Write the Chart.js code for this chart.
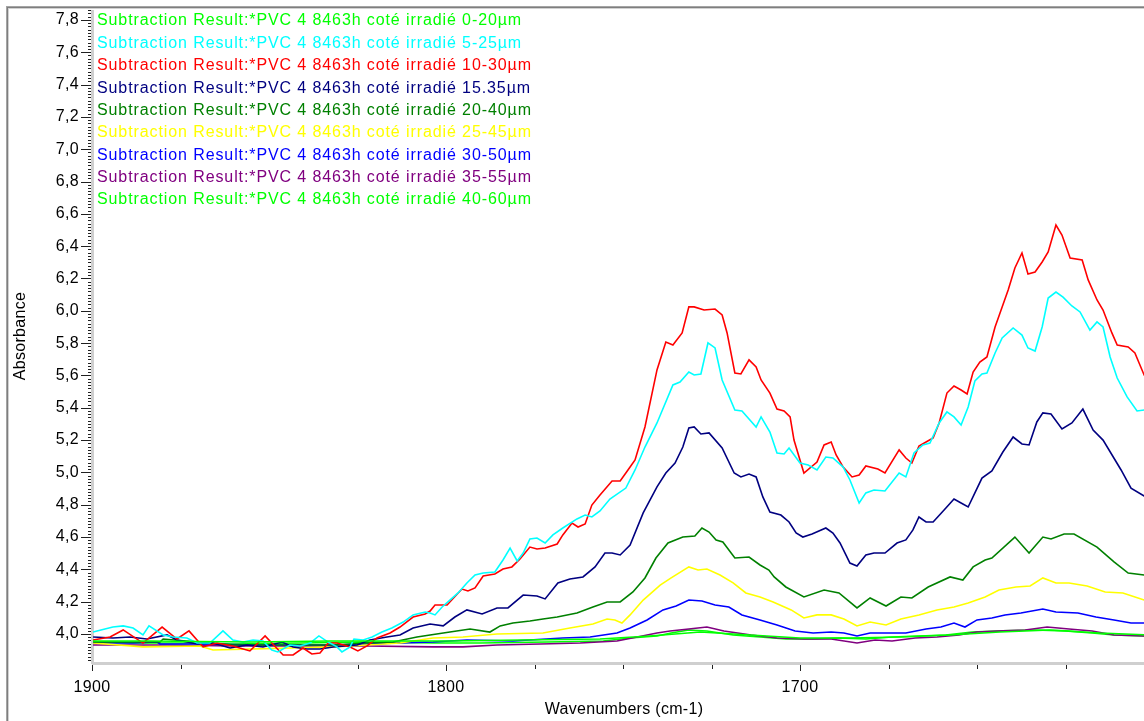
<!DOCTYPE html>
<html>
<head>
<meta charset="utf-8">
<script src="https://cdn.jsdelivr.net/npm/chart.js@4.4.1/dist/chart.umd.min.js"></script>
<style>
  html, body { margin: 0; padding: 0; background: #ffffff; overflow: hidden; }
  #wrap { position: relative; width: 1156px; height: 721px; }
</style>
</head>
<body>
<div id="wrap"><canvas id="spectra" width="1156" height="721"></canvas></div>
<script>
// Subtraction spectra, PVC 4 after 8463 h, irradiated side, by depth slice
const seriesLabels = [
  'Subtraction Result:*PVC 4 8463h coté irradié 0-20µm',
  'Subtraction Result:*PVC 4 8463h coté irradié 5-25µm',
  'Subtraction Result:*PVC 4 8463h coté irradié 10-30µm',
  'Subtraction Result:*PVC 4 8463h coté irradié 15.35µm',
  'Subtraction Result:*PVC 4 8463h coté irradié 20-40µm',
  'Subtraction Result:*PVC 4 8463h coté irradié 25-45µm',
  'Subtraction Result:*PVC 4 8463h coté irradié 30-50µm',
  'Subtraction Result:*PVC 4 8463h coté irradié 35-55µm',
  'Subtraction Result:*PVC 4 8463h coté irradié 40-60µm'
];
const seriesColors = ['#00FF00', '#00FFFF', '#FF0000', '#000080', '#008000', '#FFFF00', '#0000FF', '#800080', '#00FF00'];

// wavenumbers (cm-1) and absorbance for each slice
const wn0_20 = [1899.7,1883.6,1855.4,1832.8,1813.0,1798.9,1779.1,1756.5,1742.4,1728.2,1714.1,1700.0,1685.9,1671.8,1657.6,1643.5,1629.4,1615.3,1601.1];
const abs0_20 = [3.957,3.957,3.950,3.957,3.957,3.957,3.963,3.969,3.988,4.012,3.994,3.975,3.975,3.981,3.994,4.012,4.025,4.006,3.994];

const wn5_25 = [1899.7,1894.1,1891.2,1888.4,1885.6,1883.9,1879.9,1877.1,1873.2,1870.3,
  1866.7,1863.0,1860.2,1857.3,1854.5,1851.7,1849.2,1847.5,1844.1,1841.2,
  1838.4,1835.9,1833.3,1830.8,1829.4,1827.1,1826.0,1823.4,1820.9,1818.1,
  1815.3,1812.1,1809.3,1805.9,1804.5,1803.1,1801.1,1798.9,1796.6,1794.1,
  1791.8,1789.5,1786.2,1783.9,1781.9,1779.9,1778.2,1776.3,1774.3,1772.0,
  1769.8,1767.0,1763.0,1760.7,1758.8,1756.5,1753.7,1749.2,1746.6,1743.8,
  1740.4,1735.9,1733.9,1731.4,1729.9,1728.0,1726.0,1724.0,1722.0,1718.4,
  1716.4,1712.4,1711.0,1708.5,1706.5,1704.5,1703.1,1700.0,1697.7,1695.2,
  1692.7,1690.7,1687.8,1685.9,1683.3,1681.4,1679.1,1676.0,1672.0,1670.1,
  1667.8,1665.3,1663.3,1660.7,1658.5,1656.5,1654.5,1652.5,1650.6,1648.6,
  1647.2,1644.9,1642.9,1639.8,1637.3,1635.6,1633.6,1631.6,1629.9,1627.7,
  1625.7,1623.2,1620.9,1618.1,1616.1,1614.4,1612.4,1610.4,1607.6,1604.8,
  1602.8,1601.1];
const abs5_25 = [4.012,4.043,4.050,4.037,3.994,4.050,3.994,3.981,3.975,3.944,
  3.944,4.019,3.963,3.950,3.963,3.957,3.901,3.889,3.932,3.926,
  3.944,3.988,3.950,3.920,3.889,3.920,3.969,3.963,3.981,4.012,
  4.037,4.074,4.118,4.136,4.130,4.118,4.167,4.210,4.254,4.316,
  4.365,4.377,4.384,4.458,4.532,4.452,4.501,4.588,4.594,4.563,
  4.613,4.656,4.712,4.736,4.724,4.761,4.835,4.903,5.015,5.157,
  5.306,5.541,5.559,5.621,5.603,5.609,5.801,5.770,5.572,5.386,
  5.380,5.281,5.343,5.250,5.120,5.114,5.151,5.058,5.046,5.015,
  5.095,5.089,5.033,4.953,4.811,4.873,4.891,4.885,4.996,4.972,
  5.120,5.170,5.182,5.306,5.374,5.343,5.293,5.405,5.566,5.609,
  5.615,5.739,5.832,5.894,5.850,5.770,5.751,5.900,6.079,6.116,
  6.085,6.030,5.993,5.881,5.931,5.900,5.714,5.584,5.467,5.380,
  5.386,5.386];

const wn10_30 = [1899.7,1894.9,1891.2,1885.6,1880.2,1876.0,1872.6,1868.6,1864.7,1860.2,
  1855.4,1851.1,1846.0,1843.2,1840.4,1837.9,1835.6,1833.3,1830.8,1827.1,
  1824.9,1822.3,1819.5,1815.8,1813.0,1809.3,1805.9,1804.5,1803.1,1799.7,
  1795.5,1793.8,1791.8,1789.5,1786.2,1783.9,1781.4,1779.1,1776.3,1774.3,
  1772.0,1768.6,1767.0,1764.4,1762.7,1760.7,1758.8,1756.5,1753.1,1750.8,
  1748.6,1746.6,1743.8,1740.4,1737.9,1735.9,1733.3,1731.4,1729.9,1727.1,
  1724.0,1722.0,1720.6,1718.4,1716.7,1714.4,1712.4,1711.0,1708.5,1706.5,
  1704.5,1702.8,1701.7,1698.9,1695.2,1693.2,1691.2,1689.8,1687.8,1685.3,
  1683.3,1681.4,1678.0,1676.0,1672.0,1670.1,1668.4,1666.4,1664.4,1662.4,
  1660.7,1658.5,1656.5,1654.5,1652.8,1651.1,1649.2,1647.2,1644.9,1642.7,
  1641.2,1639.3,1637.3,1635.6,1633.6,1631.6,1629.9,1627.7,1626.0,1623.7,
  1620.3,1618.6,1616.1,1614.4,1611.9,1610.4,1607.3,1605.4,1602.8,1601.1];
const abs10_30 = [3.963,3.981,4.025,3.944,4.043,3.969,4.019,3.920,3.944,3.926,
  3.895,3.988,3.870,3.870,3.913,3.876,3.882,3.944,3.944,3.920,
  3.895,3.926,3.975,4.006,4.043,4.105,4.124,4.142,4.179,4.179,
  4.278,4.266,4.285,4.359,4.371,4.402,4.415,4.464,4.538,4.526,
  4.532,4.557,4.613,4.687,4.662,4.681,4.798,4.860,4.947,4.947,
  5.015,5.077,5.281,5.634,5.807,5.788,5.863,6.024,6.024,6.005,
  6.011,5.974,5.863,5.615,5.609,5.696,5.652,5.572,5.491,5.392,
  5.380,5.343,5.200,4.996,5.064,5.170,5.188,5.108,5.033,4.972,
  4.984,5.040,5.021,4.996,5.139,5.089,5.058,5.163,5.188,5.213,
  5.306,5.491,5.535,5.510,5.485,5.621,5.683,5.714,5.900,6.036,
  6.129,6.265,6.358,6.228,6.240,6.302,6.364,6.531,6.469,6.327,
  6.314,6.191,6.067,6.005,5.863,5.788,5.776,5.739,5.603,5.541];

const wn15_35 = [1899.7,1894.1,1889.3,1884.5,1878.8,1876.0,1870.3,1865.8,1861.0,1856.2,
  1851.7,1846.3,1843.2,1839.3,1835.6,1831.9,1825.1,1821.5,1816.7,1813.0,
  1809.3,1804.5,1800.8,1797.5,1794.1,1789.8,1785.6,1782.5,1778.2,1774.3,
  1772.0,1768.4,1765.0,1761.3,1757.9,1755.1,1753.1,1750.8,1748.0,1744.3,
  1740.4,1737.9,1735.3,1733.1,1731.4,1729.9,1728.0,1725.7,1722.0,1718.6,
  1716.7,1714.4,1712.4,1710.5,1708.5,1705.4,1703.1,1701.1,1699.2,1696.6,
  1692.7,1690.7,1688.7,1685.9,1683.9,1681.4,1679.1,1676.0,1672.6,1670.1,
  1668.1,1666.4,1664.4,1662.4,1659.3,1656.5,1654.5,1652.5,1650.6,1648.6,
  1645.8,1642.7,1639.8,1637.3,1635.3,1633.1,1631.4,1629.1,1626.0,1623.2,
  1620.1,1617.2,1614.4,1609.3,1606.5,1602.8,1601.1];
const abs15_35 = [3.981,3.975,3.981,3.969,3.994,3.963,3.938,3.944,3.913,3.932,
  3.920,3.950,3.920,3.907,3.907,3.920,3.932,3.963,3.981,3.994,
  4.037,4.062,4.050,4.105,4.149,4.124,4.161,4.161,4.241,4.235,
  4.217,4.316,4.340,4.353,4.415,4.501,4.501,4.489,4.551,4.749,
  4.910,4.996,5.058,5.157,5.275,5.281,5.238,5.244,5.151,4.996,
  4.972,4.990,4.972,4.848,4.755,4.736,4.693,4.625,4.600,4.619,
  4.656,4.625,4.563,4.439,4.421,4.489,4.501,4.501,4.563,4.582,
  4.644,4.724,4.693,4.693,4.767,4.835,4.811,4.786,4.873,4.965,
  5.009,5.126,5.219,5.176,5.170,5.312,5.368,5.361,5.269,5.306,
  5.392,5.262,5.200,5.015,4.903,4.854,4.842];

const wn20_40 = [1899.7,1880.8,1879.9,1860.2,1831.9,1822.3,1815.0,1808.2,1804.5,1798.9,
  1793.2,1787.6,1784.7,1781.1,1776.3,1772.6,1768.6,1763.0,1758.5,1754.5,
  1750.8,1747.2,1743.8,1740.7,1737.3,1733.1,1729.7,1727.7,1725.7,1723.7,
  1721.8,1718.4,1714.4,1711.3,1708.8,1707.3,1704.0,1698.9,1693.2,1689.0,
  1683.9,1680.2,1675.7,1671.5,1668.4,1663.8,1657.6,1654.0,1651.1,1647.7,
  1645.8,1639.3,1635.3,1631.4,1629.1,1625.4,1622.6,1616.1,1611.3,1607.3,
  1602.8,1601.1];
const abs20_40 = [3.950,3.950,3.969,3.932,3.932,3.944,3.950,3.981,3.994,4.012,
  4.031,4.012,4.050,4.068,4.080,4.093,4.105,4.130,4.167,4.198,
  4.198,4.260,4.347,4.470,4.563,4.600,4.606,4.656,4.631,4.582,
  4.569,4.470,4.476,4.427,4.396,4.353,4.291,4.229,4.272,4.254,
  4.161,4.223,4.173,4.229,4.223,4.291,4.353,4.334,4.415,4.458,
  4.470,4.600,4.501,4.600,4.588,4.619,4.619,4.538,4.446,4.377,
  4.365,4.359];

const wn25_45 = [1899.7,1885.6,1869.5,1865.8,1831.9,1822.3,1813.0,1803.7,1795.2,1785.6,
  1772.6,1765.0,1758.5,1754.5,1752.3,1750.3,1748.0,1744.3,1739.5,1736.4,
  1731.4,1728.8,1726.3,1722.6,1718.9,1715.3,1711.3,1707.6,1702.5,1698.9,
  1695.2,1691.2,1687.6,1683.9,1680.2,1675.7,1671.5,1666.4,1661.3,1656.5,
  1652.5,1647.7,1643.8,1639.0,1635.0,1631.4,1627.7,1624.0,1618.9,1613.8,
  1608.8,1602.8,1601.1];
const abs25_45 = [3.944,3.920,3.926,3.901,3.920,3.932,3.944,3.975,3.981,4.000,
  4.006,4.037,4.062,4.093,4.087,4.068,4.118,4.210,4.303,4.347,
  4.415,4.396,4.402,4.365,4.316,4.254,4.229,4.198,4.149,4.099,
  4.118,4.118,4.093,4.050,4.074,4.056,4.093,4.118,4.149,4.167,
  4.192,4.229,4.272,4.291,4.297,4.347,4.316,4.316,4.297,4.260,
  4.254,4.210,4.204];

const wn30_50 = [1899.7,1888.4,1881.6,1880.8,1869.5,1850.6,1831.9,1813.0,1803.7,1794.1,
  1781.1,1767.0,1759.3,1751.7,1748.0,1743.2,1738.7,1735.0,1731.4,1727.7,
  1724.0,1720.1,1716.4,1711.3,1706.5,1701.4,1696.3,1691.2,1687.6,1683.9,
  1680.2,1675.1,1670.1,1664.4,1660.2,1656.5,1653.4,1650.0,1645.8,1642.1,
  1637.6,1631.4,1627.7,1621.5,1616.4,1611.3,1606.5,1602.8,1601.1];
const abs30_50 = [3.944,3.944,3.950,3.938,3.938,3.932,3.932,3.944,3.950,3.963,
  3.957,3.975,3.981,4.006,4.037,4.087,4.149,4.173,4.210,4.204,
  4.179,4.167,4.118,4.087,4.056,4.019,4.006,4.012,4.006,3.988,
  4.006,4.006,4.006,4.031,4.043,4.068,4.043,4.087,4.099,4.118,
  4.130,4.155,4.136,4.130,4.105,4.087,4.068,4.068,4.062];

const wn35_55 = [1899.7,1878.8,1860.2,1841.2,1822.3,1803.7,1795.2,1785.6,1773.4,1762.1,
  1751.7,1746.0,1740.4,1736.7,1731.4,1726.3,1721.5,1713.8,1706.5,1698.9,
  1691.2,1683.9,1678.8,1674.0,1667.5,1661.3,1655.1,1650.0,1642.7,1636.4,
  1630.2,1624.0,1617.5,1611.3,1602.8,1601.1];
const abs35_55 = [3.932,3.932,3.926,3.926,3.926,3.920,3.920,3.932,3.938,3.944,
  3.957,3.981,4.006,4.019,4.031,4.043,4.019,3.994,3.975,3.969,
  3.969,3.944,3.963,3.957,3.975,3.981,3.994,4.012,4.019,4.025,
  4.043,4.031,4.019,3.994,3.988,3.988];

const wn40_60 = [1899.7,1888.4,1869.5,1860.2,1841.2,1822.3,1803.7,1790.4,1771.5,1755.6,
  1748.0,1740.4,1736.4,1731.4,1726.3,1718.9,1711.3,1704.0,1696.3,1689.0,
  1681.4,1674.0,1666.4,1658.8,1651.4,1642.7,1633.9,1625.1,1617.5,1611.3,
  1602.8,1601.1];
const abs40_60 = [3.950,3.944,3.944,3.938,3.944,3.950,3.944,3.944,3.950,3.957,
  3.975,3.988,4.006,4.025,4.019,3.994,3.981,3.969,3.969,3.975,
  3.969,3.981,3.988,3.994,4.012,4.019,4.025,4.019,4.006,3.994,
  3.988,3.988];

// axis ticks
const yTickValues = [4.0,4.2,4.4,4.6,4.8,5.0,5.2,5.4,5.6,5.8,6.0,6.2,6.4,6.6,6.8,7.0,7.2,7.4,7.6,7.8];
const xTickValues = [1900, 1800, 1700];
const xMinorStep = 25;
const yMinorStep = 0.02;

const wnSeries = [wn0_20, wn5_25, wn10_30, wn15_35, wn20_40, wn25_45, wn30_50, wn35_55, wn40_60];
const absSeries = [abs0_20, abs5_25, abs10_30, abs15_35, abs20_40, abs25_45, abs30_50, abs35_55, abs40_60];

const FONT = '"Liberation Sans", Arial, sans-serif';

const datasets = seriesLabels.map((label, i) => ({
  label,
  data: wnSeries[i].map((w, k) => ({ x: w, y: absSeries[i][k] })),
  borderColor: seriesColors[i],
  backgroundColor: seriesColors[i],
  borderWidth: 1.6,
  pointRadius: 0,
  fill: false,
  tension: 0
}));

const fmt = v => v.toFixed(1).replace('.', ',');

// frame, axis rulers with minor ticks, and the inline coloured legend
const axisDecor = {
  id: 'axisDecor',
  beforeDraw(chart) {
    chart.ctx.letterSpacing = '0.3px';
  },
  beforeDatasetsDraw(chart) {
    const { ctx, chartArea: a } = chart;
    ctx.save();
    ctx.fillStyle = '#cfcfcf';
    ctx.fillRect(a.left - 1, a.top + 1, 3, a.bottom - a.top);
    ctx.fillRect(a.left, a.bottom - 1, chart.width - a.left, 3);
    ctx.restore();
  },
  afterDraw(chart) {
    const { ctx, chartArea: a, scales } = chart;
    const xs = scales.x, ys = scales.y;
    ctx.save();
    ctx.letterSpacing = '0px';
    // y ruler
    ctx.strokeStyle = '#202020';
    ctx.lineWidth = 1;
    ctx.beginPath();
    const yStart = Math.ceil(ys.min / yMinorStep - 1e-6);
    const yEnd = Math.floor(ys.max / yMinorStep + 1e-6);
    for (let k = yStart; k <= yEnd; k++) {
      const v = k * yMinorStep;
      const major = Math.abs(v * 5 - Math.round(v * 5)) < 1e-6;
      const py = Math.round(ys.getPixelForValue(v)) + 0.5;
      ctx.moveTo(a.left - (major ? 11 : 4), py);
      ctx.lineTo(a.left - 1, py);
    }
    ctx.stroke();
    // x ruler
    ctx.beginPath();
    for (let w = xs.max; w >= xs.min - 1e-6; w -= xMinorStep) {
      const px = Math.round(xs.getPixelForValue(w)) + 0.5;
      const major = Math.abs(w % 100) < 1e-6;
      ctx.moveTo(px, a.bottom + 2);
      ctx.lineTo(px, a.bottom + (major ? 8 : 6));
    }
    ctx.stroke();
    // outer frame
    ctx.fillStyle = '#a4a4a4';
    ctx.fillRect(6, 6, chart.width - 6, 1);
    ctx.fillRect(6, 6, 1, chart.height - 6);
    ctx.fillStyle = '#7e7e7e';
    ctx.fillRect(7, 7, chart.width - 7, 1);
    ctx.fillRect(7, 7, 1, chart.height - 7);
    ctx.fillStyle = '#d2d2d2';
    ctx.fillRect(8, 8, chart.width - 8, 1);
    ctx.fillRect(8, 8, 1, chart.height - 8);
    // legend
    ctx.font = '16px ' + FONT;
    ctx.letterSpacing = '0.9px';
    ctx.textBaseline = 'middle';
    ctx.textAlign = 'left';
    chart.data.datasets.forEach((ds, i) => {
      ctx.fillStyle = ds.borderColor;
      ctx.fillText(ds.label, a.left + 5, a.top + 12 + i * 22.375);
    });
    ctx.restore();
  }
};

new Chart(document.getElementById('spectra'), {
  type: 'line',
  data: { datasets },
  plugins: [axisDecor],
  options: {
    responsive: false,
    animation: false,
    parsing: false,
    normalized: true,
    layout: { padding: { top: 9, left: 0, right: 0, bottom: 0 } },
    plugins: { legend: { display: false }, tooltip: { enabled: false }, title: { display: false } },
    scales: {
      x: {
        type: 'linear',
        reverse: true,
        min: 1599.44,
        max: 1900,
        afterFit: s => { s.height = 58; s.paddingLeft = 0; s.paddingRight = 0; },
        afterBuildTicks: s => { s.ticks = xTickValues.map(v => ({ value: v })); },
        grid: { display: false, drawTicks: false },
        border: { display: false },
        ticks: {
          autoSkip: false, maxRotation: 0, padding: 15, color: '#000000',
          font: { family: FONT, size: 16 },
          callback: v => String(v)
        },
        title: {
          display: true, text: 'Wavenumbers (cm-1)', color: '#000000',
          font: { family: FONT, size: 16 }, padding: { top: 0, bottom: 2 }
        }
      },
      y: {
        type: 'linear',
        min: 3.8205,
        max: 7.8676,
        afterFit: s => { s.width = 92; s.paddingTop = 0; s.paddingBottom = 0; },
        afterBuildTicks: s => { s.ticks = yTickValues.map(v => ({ value: v })); },
        grid: { display: false, drawTicks: false },
        border: { display: false },
        ticks: {
          autoSkip: false, padding: 13, color: '#000000',
          font: { family: FONT, size: 16 },
          callback: v => fmt(v)
        },
        title: {
          display: true, text: 'Absorbance', color: '#000000',
          font: { family: FONT, size: 16 }, padding: { top: 11, bottom: 0 }
        }
      }
    }
  }
});
</script>
</body>
</html>
